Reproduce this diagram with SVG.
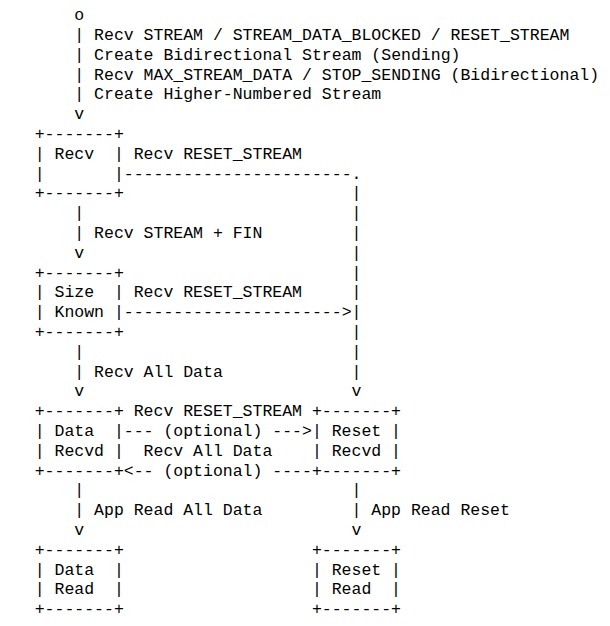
<svg xmlns="http://www.w3.org/2000/svg" width="610" height="626" viewBox="0 0 610 626" xml:space="preserve">
<style>
text { font-family: "Liberation Mono", "DejaVu Sans Mono", monospace; font-size: 16.5px; fill: #000; white-space: pre; }
</style>
<rect x="0" y="0" width="610" height="626" fill="#fff"/>
<g id="start"><text x="74.3" y="20.2">o</text></g>
<g id="node-recv">
<text x="34.7" y="139">+-------+</text>
<text x="34.7" y="158.8">| Recv  |</text>
<text x="34.7" y="178.6">|       |</text>
<text x="34.7" y="198.4">+-------+</text>
</g>
<g id="node-size-known">
<text x="34.7" y="277.6">+-------+</text>
<text x="34.7" y="297.4">| Size  |</text>
<text x="34.7" y="317.2">| Known |</text>
<text x="34.7" y="337">+-------+</text>
</g>
<g id="node-data-recvd">
<text x="34.7" y="416.2">+-------+</text>
<text x="34.7" y="436">| Data  |</text>
<text x="34.7" y="455.8">| Recvd |</text>
<text x="34.7" y="475.6">+-------+</text>
</g>
<g id="node-reset-recvd">
<text x="311.9" y="416.2">+-------+</text>
<text x="311.9" y="436">| Reset |</text>
<text x="311.9" y="455.8">| Recvd |</text>
<text x="311.9" y="475.6">+-------+</text>
</g>
<g id="node-data-read">
<text x="34.7" y="554.8">+-------+</text>
<text x="34.7" y="574.6">| Data  |</text>
<text x="34.7" y="594.4">| Read  |</text>
<text x="34.7" y="614.2">+-------+</text>
</g>
<g id="node-reset-read">
<text x="311.9" y="554.8">+-------+</text>
<text x="311.9" y="574.6">| Reset |</text>
<text x="311.9" y="594.4">| Read  |</text>
<text x="311.9" y="614.2">+-------+</text>
</g>
<g id="connectors">
<g id="c-start-recv">
<text x="74.3" y="40">| Recv STREAM / STREAM_DATA_BLOCKED / RESET_STREAM</text>
<text x="74.3" y="59.8">| Create Bidirectional Stream (Sending)</text>
<text x="74.3" y="79.6">| Recv MAX_STREAM_DATA / STOP_SENDING (Bidirectional)</text>
<text x="74.3" y="99.4">| Create Higher-Numbered Stream</text>
<text x="74.3" y="119.2">v</text>
</g>
<g id="c-recv-sizeknown">
<text x="74.3" y="218.2">|</text>
<text x="74.3" y="238">| Recv STREAM + FIN</text>
<text x="74.3" y="257.8">v</text>
</g>
<g id="c-recv-resetrecvd">
<text x="133.7" y="158.8">Recv RESET_STREAM</text>
<text x="123.8" y="178.6">-----------------------.</text>
<text x="351.5" y="198.4">|</text>
<text x="351.5" y="218.2">|</text>
<text x="351.5" y="238">|</text>
<text x="351.5" y="257.8">|</text>
<text x="351.5" y="277.6">|</text>
<text x="351.5" y="297.4">|</text>
<text x="351.5" y="337">|</text>
<text x="351.5" y="356.8">|</text>
<text x="351.5" y="376.6">|</text>
<text x="351.5" y="396.4">v</text>
</g>
<g id="c-sizeknown-resetrecvd">
<text x="133.7" y="297.4">Recv RESET_STREAM</text>
<text x="123.8" y="317.2">----------------------&gt;|</text>
</g>
<g id="c-sizeknown-datarecvd">
<text x="74.3" y="356.8">|</text>
<text x="74.3" y="376.6">| Recv All Data</text>
<text x="74.3" y="396.4">v</text>
</g>
<g id="c-datarecvd-resetrecvd">
<text x="133.7" y="416.2">Recv RESET_STREAM</text>
<text x="123.8" y="436">--- (optional) ---&gt;</text>
</g>
<g id="c-resetrecvd-datarecvd">
<text x="143.6" y="455.8">Recv All Data</text>
<text x="123.8" y="475.6">&lt;-- (optional) ----</text>
</g>
<g id="c-datarecvd-dataread">
<text x="74.3" y="495.4">|</text>
<text x="74.3" y="515.2">| App Read All Data</text>
<text x="74.3" y="535">v</text>
</g>
<g id="c-resetrecvd-resetread">
<text x="351.5" y="495.4">|</text>
<text x="351.5" y="515.2">| App Read Reset</text>
<text x="351.5" y="535">v</text>
</g>
</g>
</svg>
